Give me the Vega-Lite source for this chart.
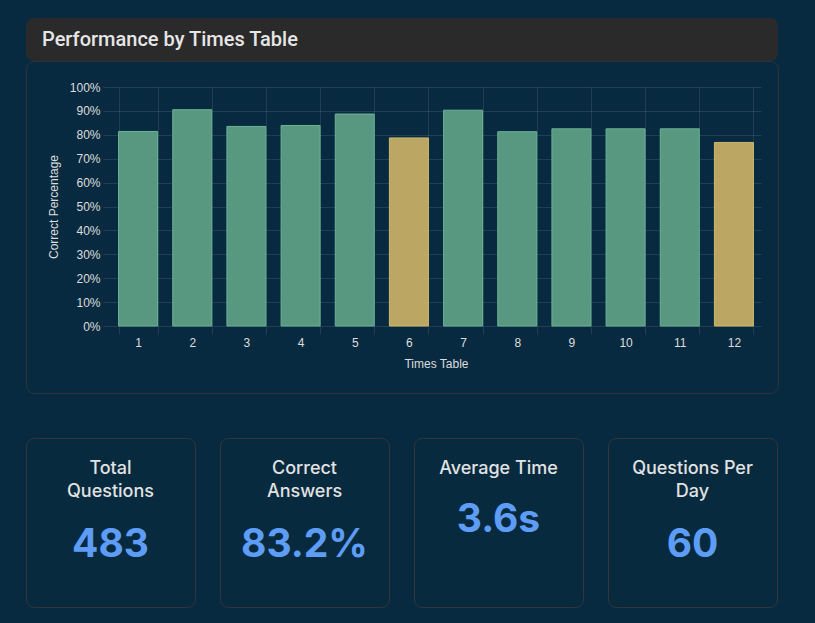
{
  "$schema": "https://vega.github.io/schema/vega-lite/v6.json",
  "background": "#082a40",
  "padding": {"left": 25, "top": 18, "right": 37, "bottom": 16},
  "datasets": {
    "tables": [
      {"table": 1, "pct": 81.4},
      {"table": 2, "pct": 90.5},
      {"table": 3, "pct": 83.5},
      {"table": 4, "pct": 83.9},
      {"table": 5, "pct": 88.7},
      {"table": 6, "pct": 78.7},
      {"table": 7, "pct": 90.3},
      {"table": 8, "pct": 81.3},
      {"table": 9, "pct": 82.5},
      {"table": 10, "pct": 82.5},
      {"table": 11, "pct": 82.5},
      {"table": 12, "pct": 76.8}
    ],
    "kpis": [
      {"metric": "Total Questions", "title": "Total\nQuestions", "value": "483"},
      {"metric": "Correct Answers", "title": "Correct\nAnswers", "value": "83.2%"},
      {"metric": "Average Time", "title": "Average Time", "value": "3.6s"},
      {"metric": "Questions Per Day", "title": "Questions Per\nDay", "value": "60"}
    ],
    "header": [
      {"title": "Performance by Times Table"}
    ]
  },
  "spacing": 43,
  "vconcat": [
    {
      "spacing": -2,
      "vconcat": [
        {
          "width": 752,
          "height": 43,
          "view": {"fill": "#2a2a2a", "stroke": null, "cornerRadius": 8},
          "data": {"name": "header"},
          "mark": {"type": "text", "align": "left", "baseline": "middle", "x": 16, "font": "Roboto", "fontSize": 20, "fontWeight": 500, "color": "#e6e6e6"},
          "encoding": {"text": {"field": "title", "type": "nominal"}}
        },
        {
          "width": 752,
          "height": 332,
          "view": {"fill": "#082a40", "stroke": "#2f3438", "strokeWidth": 1, "cornerRadius": 8},
          "data": {"name": "tables"},
          "resolve": {"axis": {"x": "independent", "y": "independent"}},
          "layer": [
            {
              "mark": {"type": "bar", "opacity": 0},
              "encoding": {
                "x": {
                  "field": "table", "type": "ordinal", "sort": null,
                  "scale": {"range": [85, 735], "paddingInner": 0.28, "paddingOuter": 0.14},
                  "axis": {
                    "orient": "top", "title": null, "labels": false, "ticks": false, "domain": false,
                    "tickBand": "extent", "grid": true, "gridColor": "#ffffff", "gridOpacity": 0.1
                  }
                },
                "y": {
                  "field": "pct", "type": "quantitative",
                  "scale": {"domain": [0, 100], "range": [265, 26], "nice": false},
                  "axis": {
                    "orient": "left", "title": null, "labels": false, "ticks": false, "domain": false,
                    "values": [0, 10, 20, 30, 40, 50, 60, 70, 80, 90, 100],
                    "grid": true, "gridColor": "#ffffff", "gridOpacity": 0.1
                  }
                }
              }
            },
            {
              "mark": {"type": "bar", "strokeWidth": 1},
              "encoding": {
                "x": {
                  "field": "table", "type": "ordinal", "sort": null,
                  "axis": {
                    "orient": "bottom",
                    "title": "Times Table", "labelAngle": 0, "offset": -67, "tickBand": "extent",
                    "grid": false, "tickColor": "#ffffff", "tickOpacity": 0.1, "tickSize": 8, "domain": false,
                    "labelPadding": 3, "titlePadding": 10,
                    "labelColor": "#dddddd", "titleColor": "#dddddd",
                    "labelFontSize": 12, "titleFontSize": 12, "titleFontWeight": "normal",
                    "labelFont": "Liberation Sans", "titleFont": "Liberation Sans"
                  }
                },
                "y": {
                  "field": "pct", "type": "quantitative",
                  "axis": {
                    "orient": "left",
                    "title": "Correct Percentage", "offset": -85,
                    "values": [0, 10, 20, 30, 40, 50, 60, 70, 80, 90, 100],
                    "labelExpr": "datum.value + '%'",
                    "grid": false, "tickColor": "#ffffff", "tickOpacity": 0.1, "tickSize": 8, "domain": false,
                    "labelPadding": 3, "titlePadding": 9,
                    "labelColor": "#dddddd", "titleColor": "#dddddd",
                    "labelFontSize": 12, "titleFontSize": 12, "titleFontWeight": "normal",
                    "labelFont": "Liberation Sans", "titleFont": "Liberation Sans"
                  }
                },
                "fill": {"condition": {"test": "datum.pct < 80", "value": "#bba763"}, "value": "#589780"},
                "stroke": {"condition": {"test": "datum.pct < 80", "value": "#cdb86b"}, "value": "#6bb394"}
              }
            }
          ]
        }
      ]
    },
    {
      "spacing": 23,
      "hconcat": [
        {
          "width": 169, "height": 169,
          "view": {"fill": "#072a3f", "stroke": "#33363a", "cornerRadius": 8},
          "data": {"name": "kpis"},
          "transform": [{"filter": {"field": "metric", "equal": "Total Questions"}}],
          "layer": [
            {"mark": {"type": "text", "baseline": "alphabetic", "dy": -48.5, "font": "Inter", "fontSize": 18, "fontWeight": 500, "color": "#e2e2e2", "lineBreak": "\n", "lineHeight": 23},
             "encoding": {"text": {"field": "title", "type": "nominal"}}},
            {"mark": {"type": "text", "baseline": "alphabetic", "dy": 34, "font": "Inter", "fontSize": 39, "fontWeight": 700, "color": "#5e9df5"},
             "encoding": {"text": {"field": "value", "type": "nominal"}}}
          ]
        },
        {
          "width": 169, "height": 169,
          "view": {"fill": "#072a3f", "stroke": "#33363a", "cornerRadius": 8},
          "data": {"name": "kpis"},
          "transform": [{"filter": {"field": "metric", "equal": "Correct Answers"}}],
          "layer": [
            {"mark": {"type": "text", "baseline": "alphabetic", "dy": -48.5, "font": "Inter", "fontSize": 18, "fontWeight": 500, "color": "#e2e2e2", "lineBreak": "\n", "lineHeight": 23},
             "encoding": {"text": {"field": "title", "type": "nominal"}}},
            {"mark": {"type": "text", "baseline": "alphabetic", "dy": 34, "font": "Inter", "fontSize": 39, "fontWeight": 700, "color": "#5e9df5"},
             "encoding": {"text": {"field": "value", "type": "nominal"}}}
          ]
        },
        {
          "width": 169, "height": 169,
          "view": {"fill": "#072a3f", "stroke": "#33363a", "cornerRadius": 8},
          "data": {"name": "kpis"},
          "transform": [{"filter": {"field": "metric", "equal": "Average Time"}}],
          "layer": [
            {"mark": {"type": "text", "baseline": "alphabetic", "dy": -48.5, "font": "Inter", "fontSize": 18, "fontWeight": 500, "color": "#e2e2e2", "lineBreak": "\n", "lineHeight": 23},
             "encoding": {"text": {"field": "title", "type": "nominal"}}},
            {"mark": {"type": "text", "baseline": "alphabetic", "dy": 9, "font": "Inter", "fontSize": 39, "fontWeight": 700, "color": "#5e9df5"},
             "encoding": {"text": {"field": "value", "type": "nominal"}}}
          ]
        },
        {
          "width": 169, "height": 169,
          "view": {"fill": "#072a3f", "stroke": "#33363a", "cornerRadius": 8},
          "data": {"name": "kpis"},
          "transform": [{"filter": {"field": "metric", "equal": "Questions Per Day"}}],
          "layer": [
            {"mark": {"type": "text", "baseline": "alphabetic", "dy": -48.5, "font": "Inter", "fontSize": 18, "fontWeight": 500, "color": "#e2e2e2", "lineBreak": "\n", "lineHeight": 23},
             "encoding": {"text": {"field": "title", "type": "nominal"}}},
            {"mark": {"type": "text", "baseline": "alphabetic", "dy": 34, "font": "Inter", "fontSize": 39, "fontWeight": 700, "color": "#5e9df5"},
             "encoding": {"text": {"field": "value", "type": "nominal"}}}
          ]
        }
      ]
    }
  ],
  "config": {
    "view": {"stroke": null},
    "font": "Liberation Sans"
  }
}
